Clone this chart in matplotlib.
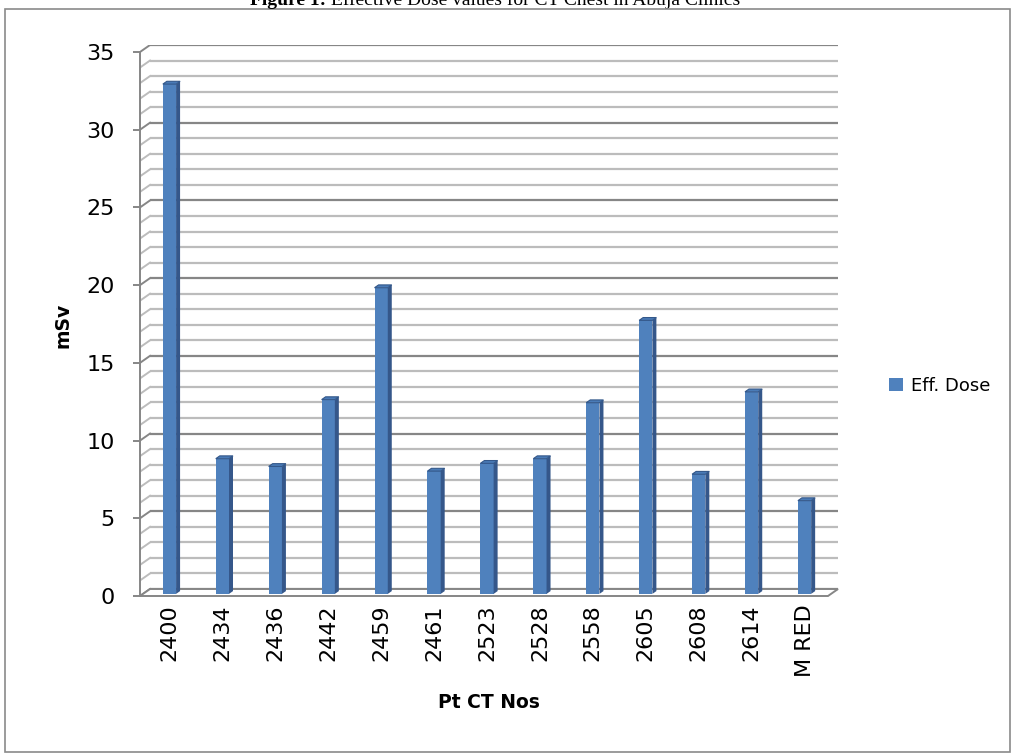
import matplotlib
matplotlib.use("Agg")
import matplotlib.pyplot as plt
from matplotlib.patches import Polygon, Rectangle

# Effective dose per patient CT number (mSv)
patients = ["2400", "2434", "2436", "2442", "2459", "2461", "2523",
            "2528", "2558", "2605", "2608", "2614", "M RED"]
eff_dose = [32.8, 8.7, 8.2, 12.5, 19.7, 7.9, 8.4,
            8.7, 12.3, 17.6, 7.7, 13.0, 6.0]
y_ticks = [0, 5, 10, 15, 20, 25, 30, 35]

W, H = 1013, 756
fig = plt.figure(figsize=(W / 100, H / 100), dpi=100)

# plot area in pixels (front axis at x=140, floor front edge at y=596)
ax = fig.add_axes([140 / W, (H - 596) / H, 698 / W, 551 / H])

n = len(patients)
dx = 10 / (688 / n)      # depth offset in category units
dy = 7 / (544 / 35)      # depth offset in value units
ax.set_xlim(-0.5, n - 0.5 + dx)
ax.set_ylim(0, 35 + dy)

minor_c, major_c = "#bcbcbc", "#868686"

# back wall + left wall gridlines
for v in range(36):
    c = major_c if v % 5 == 0 else minor_c
    ax.plot([-0.5 + dx, n - 0.5 + dx], [v + dy, v + dy], color=c, lw=1.6,
            zorder=1, solid_capstyle="butt")
    ax.plot([-0.5, -0.5 + dx], [v, v + dy], color=c, lw=1.4, zorder=1)

# floor
floor = Polygon([(-0.5, 0), (n - 0.5, 0), (n - 0.5 + dx, dy), (-0.5 + dx, dy)],
                closed=True, facecolor="white", edgecolor=major_c, lw=1.4,
                zorder=2, clip_on=False)
ax.add_patch(floor)

# 3D-looking columns: front face from ax.bar, side and top faces added
w = 0.25
d0, d1 = 0.3, 0.7        # bar front/back depth fractions
xs = [i + d0 * dx for i in range(n)]
base = d0 * dy
bars = ax.bar(xs, eff_dose, width=w, bottom=base, color="#4f81bd",
              edgecolor="none", zorder=3, label="Eff. Dose")
ddx, ddy = (d1 - d0) * dx, (d1 - d0) * dy
for x, v in zip(xs, eff_dose):
    xl, xr, top = x - w / 2, x + w / 2, v + base
    ax.add_patch(Polygon([(xr, base), (xr + ddx, base + ddy),
                          (xr + ddx, top + ddy), (xr, top)],
                         closed=True, facecolor="#35578a", edgecolor="none",
                         zorder=3))
    ax.add_patch(Polygon([(xl, top), (xr, top), (xr + ddx, top + ddy),
                          (xl + ddx, top + ddy)],
                         closed=True, facecolor="#4a7bb7", edgecolor="#34588a",
                         lw=0.8, zorder=4))

# axes styling
for s in ["top", "right", "bottom"]:
    ax.spines[s].set_visible(False)
ax.spines["left"].set_color(major_c)
ax.spines["left"].set_linewidth(1.4)
ax.spines["left"].set_bounds(0, 35)

ax.set_yticks(y_ticks)
ax.tick_params(axis="y", direction="out", length=5, width=1.4, color=major_c,
               pad=13, labelsize=16)
ax.set_xticks(xs)
ax.set_xticklabels(patients, rotation=90, fontsize=16)
ax.tick_params(axis="x", length=0, pad=6)

ax.set_ylabel("mSv", fontsize=13.5, fontweight="bold")
ax.yaxis.set_label_coords(-0.097, 0.492)
ax.set_xlabel("Pt CT Nos", fontsize=13.5, fontweight="bold")
ax.xaxis.set_label_coords(0.5, -0.176)

fig.legend(handles=[bars], labels=["Eff. Dose"], loc="center left",
           bbox_to_anchor=(873 / W, 1 - 386 / H), frameon=False, fontsize=13,
           handlelength=0.75, handleheight=0.75, handletextpad=0.45)

# outer border
fig.add_artist(Rectangle((5 / W, 4 / H), 1005 / W, 743 / H,
                         transform=fig.transFigure, fill=False,
                         edgecolor="#8a8a8a", lw=1.2))

# caption sits right at the top edge
t1 = fig.text(250 / W, 1 - 5 / H, "Figure 1:", fontsize=14,
              fontweight="bold", family="Liberation Serif", va="baseline")
ax.annotate(" Effective Dose values for CT Chest in Abuja Clinics",
            xy=(1, 0), xycoords=t1, va="bottom", ha="left", fontsize=14,
            family="Liberation Serif", annotation_clip=False)

fig.savefig("out.png", dpi=100)
